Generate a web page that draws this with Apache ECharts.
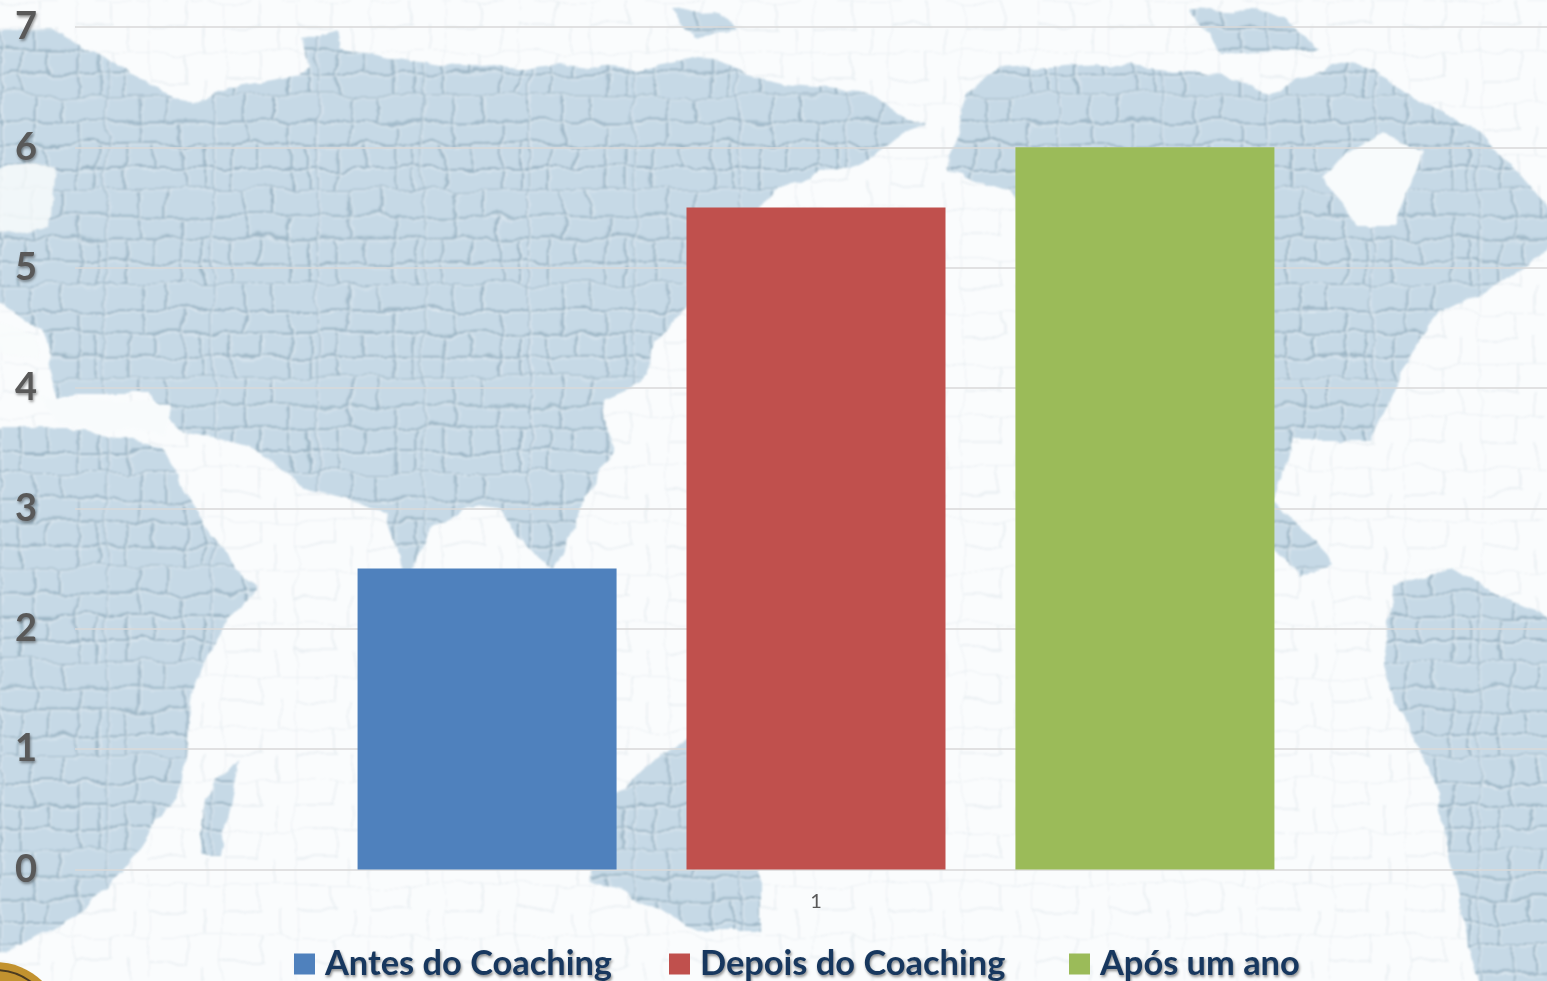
<!DOCTYPE html>
<html>
<head>
<meta charset="utf-8">
<script src="https://cdn.jsdelivr.net/npm/echarts@6/dist/echarts.min.js"></script>
<style>
html,body{margin:0;padding:0;background:#fafcfd;overflow:hidden;}
#map{position:absolute;left:0;top:0;width:1547px;height:981px;}
/* o grafico passa um pouco da janela: as linhas de grade saem pela direita */
#main{position:absolute;left:0;top:0;width:1557px;height:981px;}
</style>
</head>
<body>
<!-- fundo: mapa-mundi em relevo, so decoracao -->
<svg id="map" viewBox="0 0 1547 981">
  <defs>
    <pattern id="cells" width="132" height="118" patternUnits="userSpaceOnUse" patternTransform="scale(0.8)">
      <rect width="132" height="118" fill="#c6d9e6"/>
      <path d="M0 0H132M0 34H132M0 62H132M0 92H132M0 0V118M42 0V62M76 0V34M98 34V118M26 62V118M60 62V92M122 62V118M42 92H98" stroke="#9cb5c5" stroke-width="2.6" fill="none"/>
      <path d="M2.5 2.5H132M2.5 36.5H132M2.5 64.5H132M2.5 94.5H132M2.5 2V118M44.5 2V62M78.5 2V34M100.5 36V118M28.5 64V118M62.5 64V92M124.5 64V118M44 94.5H98" stroke="#dfeaf1" stroke-width="1.4" fill="none"/>
    </pattern>
    <pattern id="faint" width="74" height="52" patternUnits="userSpaceOnUse">
      <path d="M0 0H74M0 26H40M0 0V52M38 0V26M56 26V52" stroke="#d3dde3" stroke-width="1.4" fill="none"/>
    </pattern>
    <filter id="warp" x="-5%" y="-5%" width="110%" height="110%">
      <feTurbulence type="fractalNoise" baseFrequency="0.025" numOctaves="4" seed="4"/>
      <feDisplacementMap in="SourceGraphic" scale="16" xChannelSelector="R" yChannelSelector="G"/>
      <feGaussianBlur stdDeviation="1.1"/>
    </filter>
    <filter id="warpFaint" x="0" y="0" width="100%" height="100%">
      <feTurbulence type="fractalNoise" baseFrequency="0.02" numOctaves="3" seed="9"/>
      <feDisplacementMap in="SourceGraphic" scale="18" xChannelSelector="G" yChannelSelector="R"/>
      <feGaussianBlur stdDeviation="1"/>
    </filter>
  </defs>
  <rect width="1547" height="981" fill="#fafcfd"/>
  <rect width="1547" height="981" fill="url(#faint)" filter="url(#warpFaint)" opacity="0.45"/>
  <g fill="url(#cells)" filter="url(#warp)">
    <!-- Eurasia -->
    <path d="M-20 30 L50 28 L110 62 L190 105 L225 88 L300 75 L330 45 L420 62 L480 70 L560 62 L640 72 L700 58 L780 85 L860 92 L925 125 L880 150 L850 165 L780 190 L725 235 L700 290 L660 340 L640 385 L605 400 L612 450 L575 520 L555 570 L525 545 L500 510 L470 505 L430 530 L405 575 L385 510 L305 490 L250 445 L180 430 L150 395 L60 395 L40 330 L0 300 L-20 300 Z"/>
    <!-- Africa -->
    <path d="M-20 430 L90 430 L165 450 L215 545 L255 590 L225 625 L188 700 L182 780 L125 870 L60 930 L-20 960 Z"/>
    <!-- Madagascar -->
    <path d="M240 760 L222 850 L200 850 L205 800 Z"/>
    <!-- America do Norte -->
    <path d="M950 170 L965 95 L1000 68 L1100 62 L1200 72 L1280 90 L1350 60 L1420 100 L1480 130 L1570 235 L1505 280 L1440 312 L1400 372 L1370 440 L1290 440 L1275 500 L1335 565 L1300 575 L1200 470 L1100 300 L1010 190 Z"/>
    <!-- ilhas do norte -->
    <path d="M1190 10 L1290 15 L1320 50 L1220 55 Z"/>
    <path d="M670 10 L720 8 L740 30 L690 35 Z"/>
    <path d="M305 40 L335 30 L345 85 L315 85 Z"/>
    <!-- America do Sul -->
    <path d="M1395 585 L1450 570 L1510 600 L1570 625 L1570 1000 L1480 1000 L1440 800 L1380 665 Z"/>
    <!-- Australia -->
    <path d="M615 790 L690 738 L760 800 L760 930 L700 930 L590 880 Z"/>
  </g>
  <!-- manchas claras: Groenlandia, Europa e Mediterraneo -->
  <g fill="#f8fbfc" filter="url(#warp)">
    <path d="M1320 175 L1380 135 L1425 150 L1395 225 L1360 225 Z"/>
    <path d="M-10 170 L55 165 L50 225 L-10 235 Z" opacity="0.85"/>
    <path d="M-10 320 L30 335 L40 360 L-10 350 Z" opacity="0.85"/>
    <path d="M40 395 L170 405 L165 435 L60 425 Z"/>
  </g>
  <!-- moeda no canto -->
  <circle cx="-5" cy="1030" r="68" fill="#c2922f"/>
  <circle cx="-5" cy="1030" r="60" fill="none" stroke="#4a3a20" stroke-width="2"/>
</svg>
<div id="main"></div>
<script>
var categories = ['1'];
var seriesNames = ['Antes do Coaching', 'Depois do Coaching', 'Após um ano'];
var seriesColors = ['#4f81bd', '#c0504d', '#9bbb59'];
var antes = [2.5];
var depois = [5.5];
var aposUmAno = [6];
var yMin = 0;
var yMax = 7;
var yInterval = 1;

var myChart = echarts.init(document.getElementById('main'));

function legendAt(name, left) {
  return {
    left: left,
    top: 942,
    itemWidth: 21,
    itemHeight: 21,
    icon: 'rect',
    data: [name],
    textStyle: {
      color: '#17375e',
      fontFamily: 'Lato',
      fontWeight: 'bold',
      fontSize: 34.4,
      padding: [0, 0, 0, 5],
      textShadowColor: 'rgba(0,0,0,0.45)',
      textShadowBlur: 3,
      textShadowOffsetX: 1,
      textShadowOffsetY: 2
    }
  };
}

var option = {
  animation: false,
  color: seriesColors,
  grid: {
    left: 75,
    right: 0,
    top: 27,
    bottom: 111.5
  },
  legend: [
    legendAt(seriesNames[0], 289),
    legendAt(seriesNames[1], 664),
    legendAt(seriesNames[2], 1064)
  ],
  xAxis: {
    type: 'category',
    data: categories,
    axisLine: {show: false},
    axisTick: {show: false},
    axisLabel: {
      color: '#595959',
      fontFamily: 'Lato',
      fontSize: 20,
      margin: 22
    }
  },
  yAxis: {
    type: 'value',
    min: yMin,
    max: yMax,
    interval: yInterval,
    axisLine: {show: false},
    axisTick: {show: false},
    splitLine: {lineStyle: {color: '#d9d9d9', width: 1.5}},
    axisLabel: {
      color: '#595959',
      fontFamily: 'Lato',
      fontWeight: 'bold',
      fontSize: 38,
      margin: 38,
      padding: [4, 0, 0, 0],
      textShadowColor: 'rgba(0,0,0,0.4)',
      textShadowBlur: 3,
      textShadowOffsetX: 1,
      textShadowOffsetY: 2
    }
  },
  series: [
    {name: seriesNames[0], type: 'bar', barWidth: 259, barGap: '27%', data: antes},
    {name: seriesNames[1], type: 'bar', barWidth: 259, barGap: '27%', data: depois},
    {name: seriesNames[2], type: 'bar', barWidth: 259, barGap: '27%', data: aposUmAno}
  ]
};

myChart.setOption(option);
</script>
</body>
</html>
